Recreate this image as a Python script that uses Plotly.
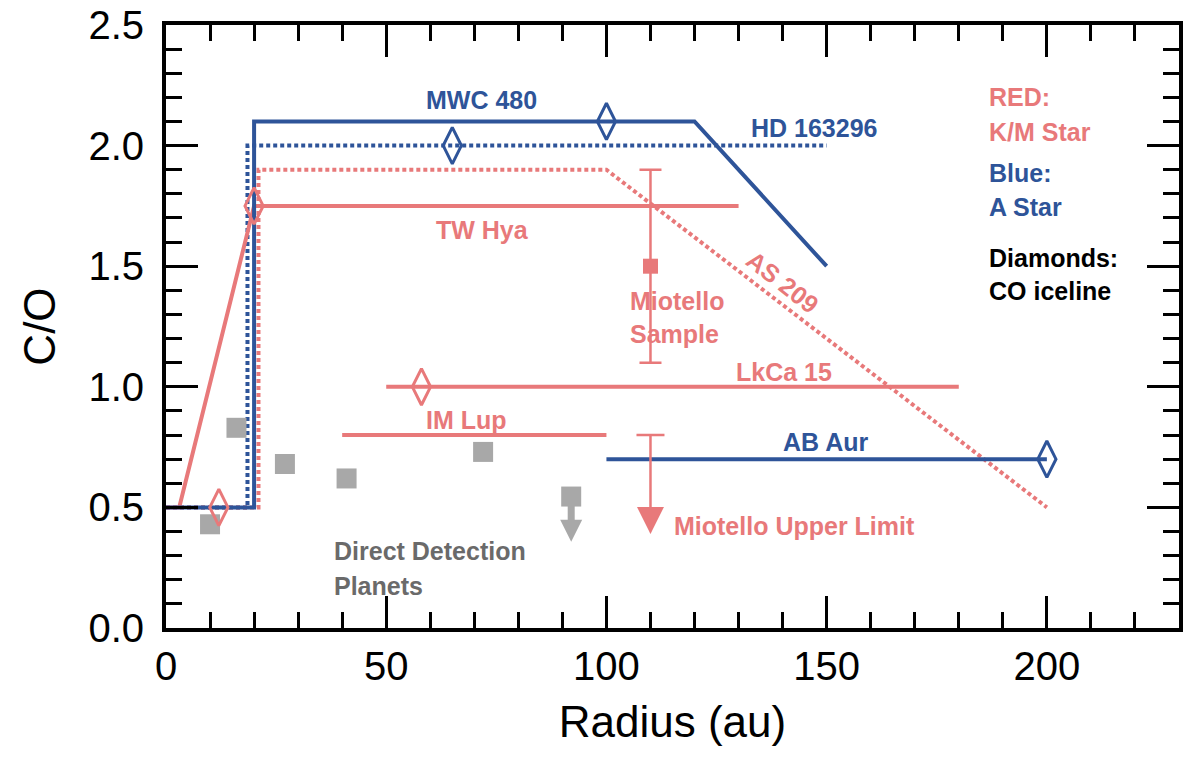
import plotly.graph_objects as go

RED = "#E8797A"
BLUE = "#2E5499"
GRAY = "#A8A8A8"
TGRAY = "#6A6A6A"

# Disk C/O profiles
mwc480_x = [0, 20, 20, 120, 150]
mwc480_y = [0.5, 0.5, 2.1, 2.1, 1.5]
hd163296_x = [0, 18.5, 18.5, 150]
hd163296_y = [0.5, 0.5, 2.0, 2.0]
as209_x = [0, 21, 21, 100, 200]
as209_y = [0.5, 0.5, 1.9, 1.9, 0.5]
twhya_x = [0, 3, 20, 130]
twhya_y = [0.5, 0.5, 1.75, 1.75]
lkca15_x = [50, 180]
lkca15_y = [1.0, 1.0]
imlup_x = [40, 100]
imlup_y = [0.8, 0.8]
abaur_x = [100, 200]
abaur_y = [0.7, 0.7]

# CO icelines (diamonds)
ice_red_x = [12, 20, 58]
ice_red_y = [0.5, 1.75, 1.0]
ice_blue_x = [65, 100, 200]
ice_blue_y = [2.0, 2.1, 0.7]

# Miotello sample
mio_x = [110]
mio_y = [1.5]
mio_err = [0.4]
mio_ul_x = [110]
mio_ul_y = [0.8]
mio_ul_tip = [0.39]

# Direct detection planets
planet_x = [10, 16, 27, 41, 72]
planet_y = [0.43, 0.83, 0.68, 0.62, 0.73]
planet_ul_x = [92]
planet_ul_y = [0.545]
planet_ul_tip = [0.358]

fig = go.Figure()

def line(x, y, color, dotted=False):
    fig.add_trace(go.Scatter(
        x=x, y=y, mode="lines",
        line=dict(color=color, width=4, dash="4px,3px" if dotted else "solid"),
        hoverinfo="skip"))

line(hd163296_x, hd163296_y, BLUE, True)
line(as209_x, as209_y, RED, True)
line(twhya_x, twhya_y, RED)
line(lkca15_x, lkca15_y, RED)
line(imlup_x, imlup_y, RED)
line(mwc480_x, mwc480_y, BLUE)
line(abaur_x, abaur_y, BLUE)

# planets
fig.add_trace(go.Scatter(x=planet_x, y=planet_y, mode="markers",
                         marker=dict(symbol="square", size=20, color=GRAY)))
fig.add_trace(go.Scatter(x=planet_ul_x, y=planet_ul_y, mode="markers",
                         marker=dict(symbol="square", size=20, color=GRAY),
                         error_y=dict(type="data", symmetric=False, array=[0],
                                      arrayminus=[planet_ul_y[0] - planet_ul_tip[0] - 0.05],
                                      color=GRAY, thickness=7, width=0)))
fig.add_trace(go.Scatter(x=planet_ul_x, y=planet_ul_tip, mode="markers",
                         marker=dict(symbol="arrow-down", size=22, color=GRAY,
                                     line=dict(width=0))))

# Miotello sample
fig.add_trace(go.Scatter(x=mio_x, y=mio_y, mode="markers",
                         marker=dict(symbol="square", size=15, color=RED),
                         error_y=dict(type="data", array=mio_err, color=RED,
                                      thickness=2.5, width=11)))
# Miotello upper limit: cap, stem, arrow head
fig.add_trace(go.Scatter(x=mio_ul_x, y=mio_ul_y, mode="markers",
                         marker=dict(size=0.1, color=RED, opacity=0),
                         error_y=dict(type="data", symmetric=False, array=[0],
                                      arrayminus=[0], color=RED,
                                      thickness=2.5, width=14)))
fig.add_trace(go.Scatter(x=mio_ul_x, y=mio_ul_y, mode="markers",
                         marker=dict(size=0.1, color=RED, opacity=0),
                         error_y=dict(type="data", symmetric=False, array=[0],
                                      arrayminus=[mio_ul_y[0] - mio_ul_tip[0] - 0.06],
                                      color=RED, thickness=2.5, width=0)))
fig.add_trace(go.Scatter(x=mio_ul_x, y=mio_ul_tip, mode="markers",
                         marker=dict(symbol="arrow-down", size=27, color=RED,
                                     line=dict(width=0))))

# diamonds
fig.add_trace(go.Scatter(x=ice_red_x, y=ice_red_y, mode="markers",
                         marker=dict(symbol="diamond-tall-open", size=26,
                                     color=RED, line=dict(color=RED, width=3))))
fig.add_trace(go.Scatter(x=ice_blue_x, y=ice_blue_y, mode="markers",
                         marker=dict(symbol="diamond-tall-open", size=26,
                                     color=BLUE, line=dict(color=BLUE, width=3))))

LF = "Liberation Sans, Arial"
LS = 25

labels = [
    ("MWC 480", 71.6, 2.19, BLUE, "center", 0),
    ("HD 163296", 147.1, 2.075, BLUE, "center", 0),
    ("TW Hya", 71.9, 1.65, RED, "center", 0),
    ("AS 209", 140, 1.435, RED, "center", 38),
    ("Miotello", 104.9, 1.355, RED, "left", 0),
    ("Sample", 104.9, 1.22, RED, "left", 0),
    ("LkCa 15", 140.3, 1.06, RED, "center", 0),
    ("IM Lup", 68.2, 0.862, RED, "center", 0),
    ("AB Aur", 149.8, 0.772, BLUE, "center", 0),
    ("Miotello Upper Limit", 142.7, 0.422, RED, "center", 0),
    ("Direct Detection", 37.7, 0.32, TGRAY, "left", 0),
    ("Planets", 37.7, 0.176, TGRAY, "left", 0),
    ("RED:", 186.4, 2.2, RED, "left", 0),
    ("K/M Star", 186.4, 2.057, RED, "left", 0),
    ("Blue:", 186.4, 1.886, BLUE, "left", 0),
    ("A Star", 186.4, 1.746, BLUE, "left", 0),
    ("Diamonds:", 186.4, 1.533, "black", "left", 0),
    ("CO iceline", 186.4, 1.399, "black", "left", 0),
]
for txt, x, y, c, anchor, ang in labels:
    fig.add_annotation(x=x, y=y, xref="x", yref="y", text="<b>%s</b>" % txt,
                       showarrow=False, xanchor=anchor, yanchor="middle",
                       textangle=ang,
                       font=dict(family=LF, size=LS, color=c))

TF = "Liberation Sans, Arial, Helvetica"
axis_common = dict(
    showline=True, linewidth=4, linecolor="black", mirror="ticks",
    ticks="inside", ticklen=32, tickwidth=3, tickcolor="black",
    showgrid=False, zeroline=False, ticklabeloverflow="allow",
    tickfont=dict(family=TF, size=40, color="black"),
)
fig.update_xaxes(range=[0, 230], tick0=0, dtick=50,
                 minor=dict(dtick=10, ticks="inside", ticklen=16, tickwidth=3,
                            tickcolor="black", showgrid=False),
                 title=dict(text="Radius (au)", font=dict(family=TF, size=44, color="black"),
                            standoff=20),
                 **axis_common)
fig.update_yaxes(range=[0, 2.5], tick0=0, dtick=0.5, tickformat=".1f",
                 ticklabelstandoff=10,
                 minor=dict(dtick=0.1, ticks="inside", ticklen=16, tickwidth=3,
                            tickcolor="black", showgrid=False),
                 title=dict(text="C/O", font=dict(family=TF, size=44, color="black"),
                            standoff=20),
                 **axis_common)

fig.update_layout(
    width=1186, height=759,
    margin=dict(l=166, r=3, t=20, b=131),
    plot_bgcolor="white", paper_bgcolor="white",
    showlegend=False,
)

fig.write_html("out.html")
